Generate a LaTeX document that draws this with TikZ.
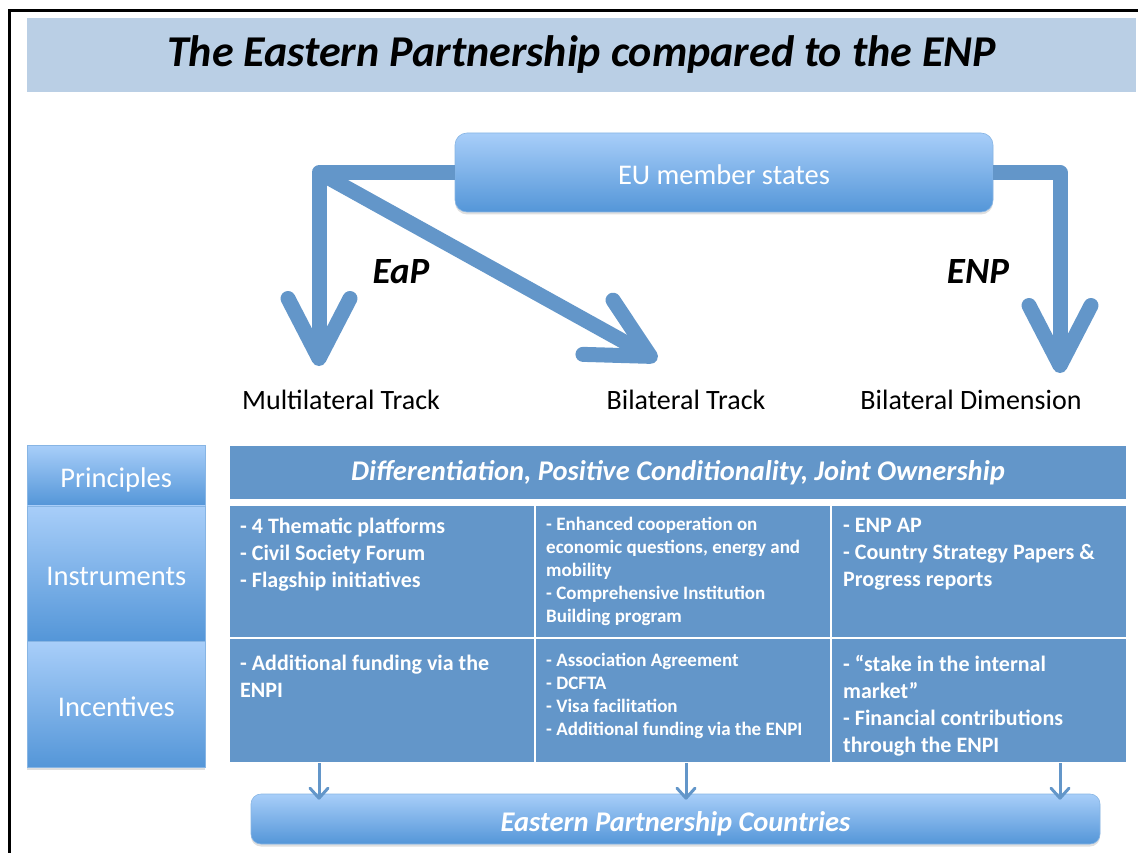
\documentclass[tikz,border=0pt]{standalone}
\usepackage{fontspec}
\setmainfont{Carlito}
\usetikzlibrary{positioning,arrows.meta,shadows}
\definecolor{trackblue}{RGB}{99,150,201}
\definecolor{boxtop}{RGB}{168,206,249}
\definecolor{boxbot}{RGB}{84,150,216}
\definecolor{bandgrey}{RGB}{186,207,229}
\tikzset{
  bigarrow/.style={draw=trackblue,line width=15pt,line join=round,
    -{Straight Barb[length=60pt,width=62pt,round]}},
  smallarrow/.style={draw=trackblue,line width=3pt,shorten >=-6pt,
    -{Straight Barb[length=10pt,width=18pt,round]}},
  gradbox/.style={top color=boxtop,bottom color=boxbot,draw=boxbot!70!white,
    line width=0.6pt,text=white,text height=24pt,text depth=0pt,
    drop shadow={opacity=0.25,shadow xshift=0pt,shadow yshift=-2.5pt}},
  sidebox/.style={gradbox,minimum width=178,inner sep=0pt,
    font=\fontsize{28.5}{32}\selectfont},
  cell/.style={fill=trackblue,draw=white,line width=1.5pt,inner sep=0pt,outer sep=0pt},
  celltext/.style={text=white,align=left,anchor=north west,inner sep=0pt},
  bigtext/.style={font=\fontsize{22}{27}\selectfont\bfseries},
  smalltext/.style={font=\fontsize{19}{23}\selectfont\bfseries},
  tracklabel/.style={font=\fontsize{28}{32}\selectfont},
  tracktag/.style={font=\fontsize{37}{42}\selectfont\bfseries\itshape},
}
\begin{document}
\begin{tikzpicture}[x=1pt,y=-1pt]
  \useasboundingbox (0,0) rectangle (1138,853);
  % frame and title band
  \draw[line width=3pt] (9,853) |- (1138,11);
  \node[fill=bandgrey,minimum width=1109,minimum height=74,inner sep=0pt,
    font=\fontsize{44}{50}\selectfont\bfseries\itshape] (band) at (581.5,55)
    {The Eastern Partnership compared to the ENP};

  % EU member states and the three tracks
  \node[gradbox,rounded corners=12pt,minimum width=538,minimum height=79,
    font=\fontsize{28.5}{32}\selectfont] (eu) at (724,172.5) {EU member states};
  \coordinate (multitip) at (319,366);
  \coordinate (bitip) at (657,360);
  \coordinate (dimtip) at (1060,373);
  \draw[bigarrow] (eu.west) -| (multitip);
  \draw[bigarrow] (eu.west -| multitip) -- (bitip);
  \draw[bigarrow] (eu.east) -| (dimtip);
  \node[tracktag] (eap) at (401,272) {EaP};
  \node[tracktag] (enp) at (978,272) {ENP};
  \node[tracklabel] (multi) at (341,400) {Multilateral Track};
  \node[tracklabel] (bitrack) at (686,400) {Bilateral Track};
  \node[tracklabel] (bidim) at (971,400) {Bilateral Dimension};

  % row heads
  \node[sidebox,minimum height=60,anchor=north west] (princ) at (27,445) {Principles};
  \node[sidebox,minimum height=135,below=0pt of princ] (instr) {Instruments};
  \node[sidebox,minimum height=126,below=0pt of instr] (incent) {Incentives};

  % table
  \node[cell,anchor=north west,minimum width=898,minimum height=55,text=white,
    font=\fontsize{28.5}{32}\selectfont\bfseries\itshape] (head) at (229,445)
    {Differentiation, Positive Conditionality, Joint Ownership};
  \node[cell,anchor=north west,minimum width=306,minimum height=133] (i1) at (229,505) {};
  \node[cell,minimum width=296,minimum height=133,right=0pt of i1] (i2) {};
  \node[cell,minimum width=296,minimum height=133,right=0pt of i2] (i3) {};
  \node[cell,minimum width=306,minimum height=125,below=0pt of i1] (n1) {};
  \node[cell,minimum width=296,minimum height=125,right=0pt of n1] (n2) {};
  \node[cell,minimum width=296,minimum height=125,right=0pt of n2] (n3) {};

  \node[celltext,bigtext] (i1txt) at ([shift={(11,13)}]i1.north west)
    {- 4 Thematic platforms\\- Civil Society Forum\\- Flagship initiatives};
  \node[celltext,smalltext] (i2txt) at ([shift={(11,12)}]i2.north west)
    {- Enhanced cooperation on\\economic questions, energy and\\mobility\\
     - Comprehensive Institution\\Building program};
  \node[celltext,bigtext] (i3txt) at ([shift={(12,13)}]i3.north west)
    {- ENP AP\\- Country Strategy Papers \&\\Progress reports};
  \node[celltext,bigtext] (n1txt) at ([shift={(11,17)}]n1.north west)
    {- Additional funding via the\\ENPI};
  \node[celltext,smalltext] (n2txt) at ([shift={(11,15)}]n2.north west)
    {- Association Agreement\\- DCFTA\\- Visa facilitation\\
     - Additional funding via the ENPI};
  \node[celltext,bigtext] (n3txt) at ([shift={(12,17)}]n3.north west)
    {- “stake in the internal\\market”\\- Financial contributions\\through the ENPI};

  % partner countries
  \node[gradbox,rounded corners=10pt,minimum width=849,minimum height=50,
    font=\fontsize{28.5}{32}\selectfont\bfseries\itshape] (epc) at (675.5,819)
    {Eastern Partnership Countries};
  \draw[smallarrow] (multitip |- n1.south) -- (multitip |- epc.north);
  \draw[smallarrow] (bitrack |- n2.south) -- (bitrack |- epc.north);
  \draw[smallarrow] (dimtip |- n3.south) -- (dimtip |- epc.north);
\end{tikzpicture}
\end{document}
